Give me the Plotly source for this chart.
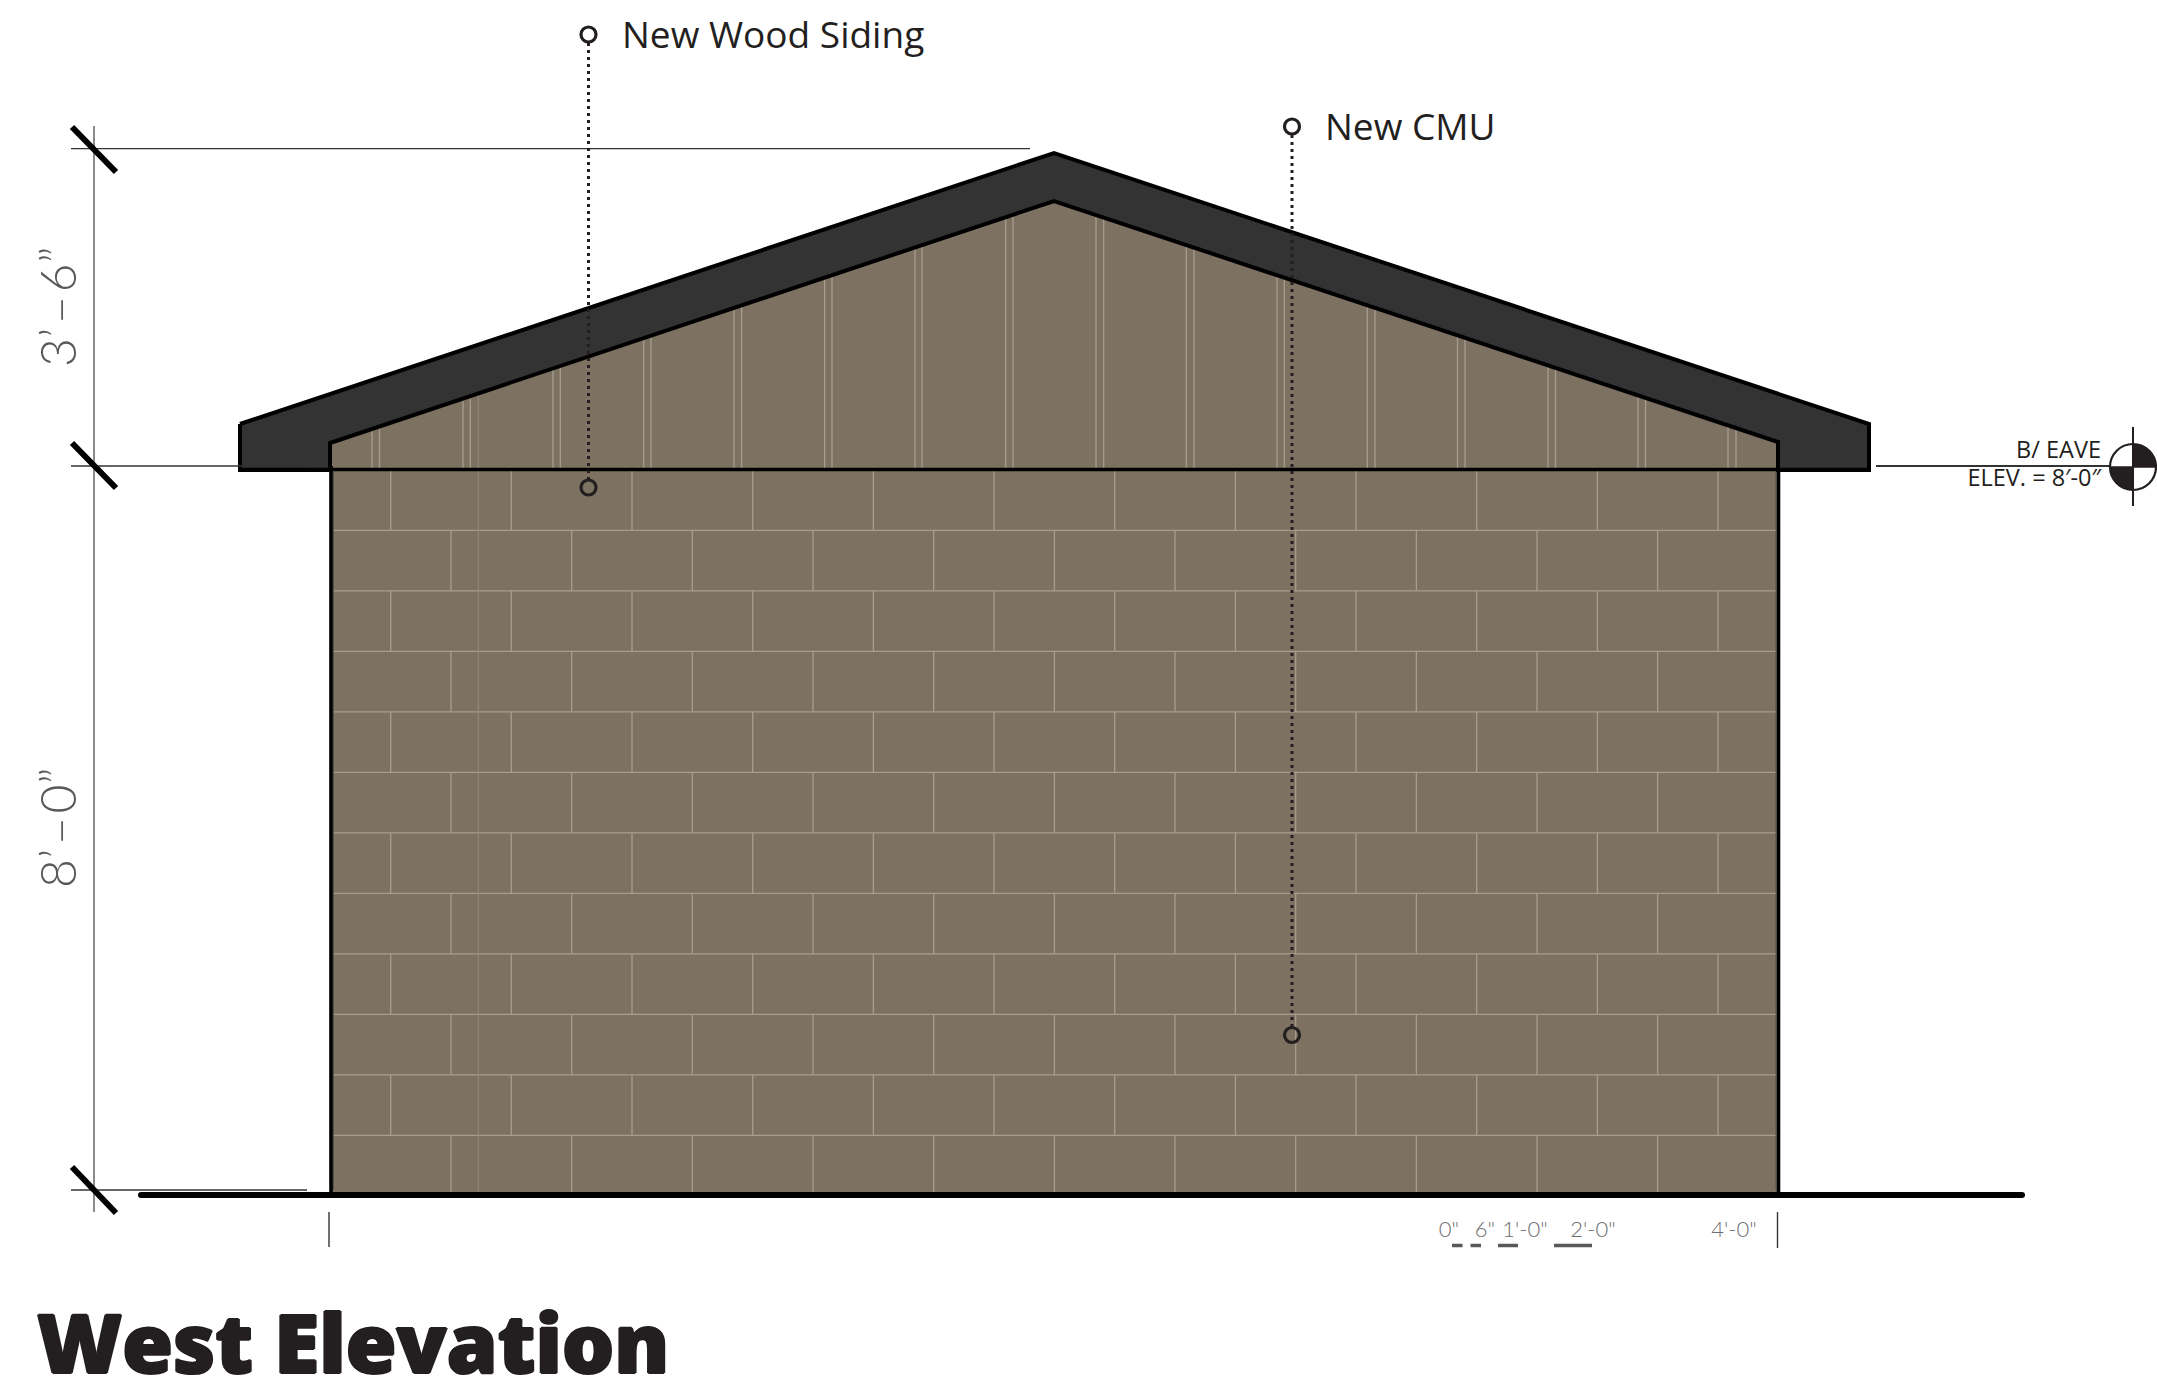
import plotly.graph_objects as go

# Drawing units: pixels of the 2157x1385 sheet
roof_x = [240, 1054, 1869, 1869, 1778, 1778, 1054, 330, 330, 240, 240]
roof_y = [424, 153, 424, 470, 470, 442, 201, 443, 470, 470, 424]
gable_x = [330, 1054, 1778, 1778, 330, 330]
gable_y = [443, 201, 442, 470, 470, 443]
wall_x = [330, 1779, 1779, 330, 330]
wall_y = [470, 470, 1192, 1192, 470]

course_y = [470, 530.3, 590.8, 651.3, 711.8, 772.3, 832.8, 893.3, 953.8, 1014.3, 1074.8, 1135.3, 1193]
joints_a = [390.7, 511.3, 632, 752.7, 873.4, 994, 1114.7, 1235.4, 1356, 1476.7, 1597.4, 1718]
joints_b = [451, 571.7, 692.3, 813, 933.7, 1054.4, 1175, 1295.7, 1416.4, 1537, 1657.6]
extra_joint_x = 478.3
extra_joint_top = 394

siding_x = [372, 379.5, 463, 470.3, 553, 560.3, 643.7, 651, 734, 741.6, 824.6, 832, 915, 922,
            1005.7, 1013, 1096, 1103.7, 1186.3, 1194, 1277, 1284.3, 1367.3, 1375,
            1457.5, 1465, 1548, 1555.5, 1638, 1645.5, 1728, 1736]
siding_top = [429, 427, 399, 397, 369, 367, 339, 337, 309, 306, 278, 276, 248, 246,
              218, 215, 215, 218, 245, 248, 275, 278, 306, 308,
              336, 338, 366, 368, 396, 398, 426, 428]
siding_bottom = 468

dim_x = 94
dim_y_span = [126, 1212]
dim_lines = [([71, 1030], [148.7, 148.7]), ([71, 307], [466, 466]), ([71, 307], [1190, 1190])]
slashes = [([72, 116], [127, 172]), ([72, 116], [443, 488]), ([72, 116], [1167, 1213])]

ground_x = [141, 2022]
ground_y = [1195, 1195]
ticks = [([329, 329], [1212, 1247]), ([1777.5, 1777.5], [1212, 1248])]

leader_x = [588.5, 1292]
leader_top = [34.5, 126.5]
leader_bottom = [487.5, 1035]
leader_line_top = [43, 135]
leader_line_bottom = [479, 1027]
leader_labels = ["New Wood Siding", "New CMU"]
leader_label_x = [622, 1325]
leader_label_y = [39, 131]

scale_labels = ['0"', '6"', "1'-0\"", "2'-0\"", "4'-0\""]
scale_label_x = [1449, 1485, 1525, 1593, 1734]
scale_bars = [(1452, 1462.5), (1470.5, 1481), (1498, 1518), (1554, 1592)]
scale_bar_y = 1245.5

eave_line_x = [1876, 2110]
eave_y = 466
target_x, target_y, target_r = 2133, 467, 23
target_vert = [427, 506]
eave_labels = ["B/ EAVE", "ELEV. = 8′-0″"]
eave_label_y = [452, 480]

dim_labels = ["3’\u200a–\u200a6”", "8’\u200a–\u200a0”"]
dim_label_y = [307, 828]
title_text = "West Elevation"

WALL = "#7d7161"
JOINT = "#a89e90"
INK = "#231f20"
GREY = "#58595b"

fig = go.Figure()


def seg(xs_list, ys_list, color, width, dash=None):
    xs, ys = [], []
    for a, b in zip(xs_list, ys_list):
        xs += list(a) + [None]
        ys += list(b) + [None]
    fig.add_trace(go.Scatter(x=xs, y=ys, mode="lines", hoverinfo="skip",
                             line=dict(color=color, width=width, dash=dash)))


def poly(x, y, fill, line, width):
    fig.add_trace(go.Scatter(x=x, y=y, mode="lines", fill="toself", fillcolor=fill, hoverinfo="skip",
                             line=dict(color=line, width=width)))


def label(x, y, text, size, pos, color=INK, family="Open Sans", weight=None, shadow=None):
    fig.add_trace(go.Scatter(x=[x], y=[y], mode="text", text=[text], textposition=pos, hoverinfo="skip",
                             textfont=dict(size=size, color=color, family=family, weight=weight,
                                           shadow=shadow)))


poly(wall_x, wall_y, WALL, "rgba(0,0,0,0)", 0)
poly(gable_x, gable_y, WALL, "rgba(0,0,0,0)", 0)

# masonry joints
bx, by = [], []
for i, (top, bot) in enumerate(zip(course_y[:-1], course_y[1:])):
    bx.append([330, 1778])
    by.append([bot, bot])
    for j in (joints_a if i % 2 == 0 else joints_b):
        bx.append([j, j])
        by.append([top, bot])
seg(bx, by, JOINT, 1.3)
seg([[extra_joint_x, extra_joint_x]], [[extra_joint_top, course_y[-1]]], "#94897a", 1.1)

# siding joints
seg([[x, x] for x in siding_x], [[t, siding_bottom] for t in siding_top], JOINT, 1.3)

# wall outline
seg([[331, 331], [1778.5, 1778.5]], [[466, 1192], [466, 1192]], "#000000", 3.6)
seg([[333.5, 333.5], [1776, 1776]], [[472, 1190], [472, 1190]], "#55504a", 1)
# roof
poly(roof_x, roof_y, "#333333", "#000000", 4)
# eave line across the wall head
seg([[240, 1869]], [[469.5, 469.5]], "#000000", 3.4)

# ground
fig.add_trace(go.Scatter(x=ground_x, y=ground_y, mode="lines+markers", hoverinfo="skip",
                         line=dict(color="#000000", width=6),
                         marker=dict(color="#000000", size=6)))

# dimensions
seg([[dim_x, dim_x]], [dim_y_span], "#4d4d4d", 1.3)
seg([d[0] for d in dim_lines], [d[1] for d in dim_lines], "#333333", 1.3)
seg([s[0] for s in slashes], [s[1] for s in slashes], "#000000", 6)
seg([t[0] for t in ticks], [t[1] for t in ticks], "#333333", 1.4)

# leaders
seg([[x, x] for x in leader_x], [[t, b] for t, b in zip(leader_line_top, leader_line_bottom)],
    INK, 3, "3px,4px")
fig.add_trace(go.Scatter(x=leader_x + leader_x, y=leader_top + leader_bottom, mode="markers", hoverinfo="skip",
                         marker=dict(symbol="circle-open", size=15, color=INK, line=dict(color=INK, width=3.2))))
for x, y, t in zip(leader_label_x, leader_label_y, leader_labels):
    label(x, y, t, 37, "middle right")

# scale
for x, t in zip(scale_label_x, scale_labels):
    label(x, 1231, t, 22, "middle center", color="#6d6e71", family="Lato", weight=300)
seg([list(b) for b in scale_bars], [[scale_bar_y, scale_bar_y] for _ in scale_bars], GREY, 3.5)

# eave marker
seg([eave_line_x], [[eave_y, eave_y]], "#333333", 1.8)
cx, cy, r = target_x, target_y, target_r
k = 0.5523 * r
quad = (f"M{cx},{cy} L{cx},{cy-r} C{cx+k},{cy-r} {cx+r},{cy-k} {cx+r},{cy} Z "
        f"M{cx},{cy} L{cx},{cy+r} C{cx-k},{cy+r} {cx-r},{cy+k} {cx-r},{cy} Z")
fig.add_shape(type="circle", x0=cx-r, x1=cx+r, y0=cy-r, y1=cy+r, line=dict(color=INK, width=2.2),
              fillcolor="white", layer="above")
fig.add_shape(type="path", path=quad, fillcolor=INK, line=dict(width=0), layer="above")
fig.add_shape(type="line", x0=cx, x1=cx, y0=target_vert[0], y1=target_vert[1],
              line=dict(color=INK, width=2), layer="above")
fig.add_shape(type="line", x0=cx-r, x1=cx+r, y0=cy, y1=cy,
              line=dict(color=INK, width=1.5), layer="above")
for y, t in zip(eave_label_y, eave_labels):
    label(2101, y, t, 23.5, "middle left")

# rotated dimension labels
for y, t in zip(dim_label_y, dim_labels):
    fig.add_annotation(x=57, y=y, text=t, textangle=-90, showarrow=False,
                       font=dict(size=50, color=GREY, family="Lato", weight=300))

# title
label(37, 1352, title_text, 82, "middle right", family="Open Sans", weight=800,
      shadow="1.2px 0 0 #231f20, -1.2px 0 0 #231f20, 0 1px 0 #231f20, 0 -1px 0 #231f20")

fig.update_layout(
    width=2157, height=1385, margin=dict(l=0, r=0, t=0, b=0), showlegend=False,
    paper_bgcolor="white", plot_bgcolor="white",
    xaxis=dict(range=[0, 2157], visible=False, fixedrange=True),
    yaxis=dict(range=[1385, 0], visible=False, fixedrange=True),
)
fig.write_html("out.html", config={"displayModeBar": False},
               post_script="document.body.style.margin='0';")
